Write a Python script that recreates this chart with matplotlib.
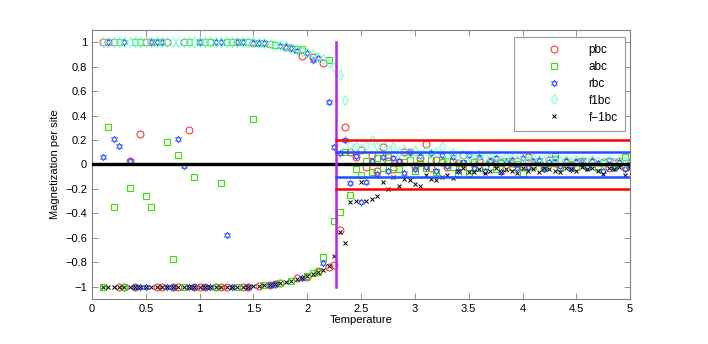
import numpy as np
import matplotlib.pyplot as plt
from matplotlib.path import Path

plt.rcParams['font.family'] = ['Liberation Sans', 'DejaVu Sans']

# temperature grid 0.1 : 0.05 : 5
temps = np.round(np.arange(0.1, 5.001, 0.05), 2)
Tc = 2.269

pbc = [1, 1, 1, -1, -1, 0.03, -1, 0.25, 1, 1,
       -1, -1, 1, -1, -1, 1, 0.28, -1, -1, -1,
       1, -1, -1, -1, 1, 1, -1, -0.999, 0.997, -0.995,
       0.99, -0.985, -0.98, -0.97, 0.96, 0.95, -0.93, 0.89, -0.92, 0.88,
       -0.87, 0.83, -0.84, -0.82,
       -0.54, 0.31, 0.1, 0.06, 0.12, -0.02, 0.08, -0.05, 0.14, 0.03,
       -0.04, 0.02, 0.1, 0.1, -0.01, 0.05, 0.17, -0.03, 0.04, 0.02,
       -0.02, 0.03, 0.01, 0.08, -0.02, 0.02, 0.04, -0.01, 0.03, 0.0,
       0.02, -0.03, 0.01, 0.03, -0.02, 0.06, 0.0, 0.02, -0.03, 0.04,
       0.01, -0.02, 0.03, -0.01, 0.02, 0.01, -0.02, 0.03, -0.01, 0.02,
       -0.03, 0.01, 0.03, -0.02, 0.01]

abc = [-1, 0.31, -0.35, 1, -1, -0.19, 1, 1, -0.26, -0.35,
       1, 1, 0.18, -0.77, 0.08, -1, 1, -0.1, 1, 1,
       1, -1, -0.155, 1, 1, -1, 1, 0.999, 0.37, 0.995,
       -0.99, 0.985, 0.98, -0.97, 0.96, -0.95, 0.94, 0.94, -0.91, -0.89,
       -0.88, -0.76, 0.85, -0.46,
       -0.39, 0.1, -0.25, -0.04, -0.09, 0.03, -0.06, 0.05, -0.03, 0.06,
       -0.02, -0.04, 0.02, 0.04, -0.05, 0.01, -0.03, 0.04, -0.06, 0.02,
       0.03, -0.02, -0.07, 0.01, -0.07, 0.02, -0.03, -0.01, 0.02, -0.04,
       0.01, 0.03, -0.02, 0.0, -0.07, 0.02, -0.01, 0.03, -0.02, 0.01,
       0.07, -0.03, 0.02, 0.0, -0.02, 0.03, -0.01, 0.02, -0.03, 0.01,
       0.03, -0.02, 0.01, 0.06, -0.01]

rbc = [0.06, 1, 0.21, 0.15, 1, 0.03, -1, -1, -1, 1,
       1, 1, -1, -1, 0.21, -0.01, -1, -1, 1, -1,
       -1, 1, 1, -0.58, -1, 1, 0.999, -0.999, 0.997, 0.995,
       0.99, -0.985, -0.98, 0.97, 0.96, 0.95, 0.93, -0.93, 0.91, 0.85,
       0.87, -0.81, 0.51, 0.14,
       0.09, 0.2, -0.15, 0.07, -0.31, -0.14, 0.03, -0.08, 0.06, -0.05,
       0.05, 0.03, -0.07, 0.1, -0.04, 0.07, -0.02, 0.09, -0.05, 0.08,
       -0.01, 0.06, -0.05, 0.02, 0.08, -0.03, 0.06, -0.05, 0.03, 0.05,
       -0.06, 0.02, 0.04, -0.03, 0.05, -0.02, 0.03, 0.04, -0.04, 0.02,
       0.05, -0.01, 0.03, -0.04, 0.02, 0.04, -0.02, 0.03, 0.01, -0.05,
       0.04, -0.03, 0.02, -0.04, 0.03]

f1bc = [1, 1, 1, 1, 1, 1, 1, 1, 1, 1,
        1, 1, 1, 1, 1, 1, 1, 1, 1, 1,
        1, 1, 1, 1, 1, 1, 1, 0.999, 0.998, 0.995,
        0.99, 0.985, 0.98, 0.975, 0.965, 0.955, 0.945, 0.93, 0.915, 0.9,
        0.88, 0.86, 0.83, 0.8,
        0.73, 0.53, 0.16, 0.15, 0.13, 0.16, 0.2, 0.15, 0.17, 0.12,
        0.14, 0.1, 0.12, 0.09, 0.11, 0.08, 0.12, 0.09, 0.1, 0.14,
        0.07, 0.09, 0.06, 0.08, 0.07, 0.05, 0.08, 0.06, 0.05, 0.07,
        0.04, 0.06, 0.05, 0.04, 0.06, 0.03, 0.05, 0.04, 0.03, 0.05,
        0.04, 0.03, 0.04, 0.02, 0.04, 0.03, 0.02, 0.04, 0.03, 0.02,
        0.03, 0.02, 0.03, 0.02, 0.03]

fm1bc = [-1, -1, -1, -1, -1, -1, -1, -1, -1, -1,
         -1, -1, -1, -1, -1, -1, -1, -1, -1, -1,
         -1, -1, -1, -1, -1, -1, -1, -0.999, -0.998, -0.995,
         -0.99, -0.985, -0.98, -0.97, -0.96, -0.95, -0.94, -0.93, -0.91, -0.9,
         -0.88, -0.86, -0.83, -0.75,
         -0.55, -0.64, -0.31, -0.3, -0.14, -0.3, -0.28, -0.26, -0.14, -0.2,
         -0.1, -0.18, -0.12, -0.13, -0.16, -0.18, -0.09, -0.12, -0.13, -0.1,
         -0.09, -0.11, -0.05, -0.03, -0.06, -0.06, -0.04, -0.07, -0.05, -0.03,
         -0.06, -0.04, -0.05, -0.07, -0.03, -0.05, -0.04, -0.06, -0.03, -0.04,
         -0.05, -0.06, -0.03, -0.04, -0.05, -0.02, -0.04, -0.03, -0.05, -0.08,
         -0.03, -0.04, -0.02, -0.09, -0.03]

# MATLAB-style hexagram: two overlapping triangles
ang_up = np.deg2rad([90, 210, 330])
ang_dn = np.deg2rad([270, 30, 150])
tri_up = np.column_stack([np.cos(ang_up), np.sin(ang_up)])
tri_dn = np.column_stack([np.cos(ang_dn), np.sin(ang_dn)])
verts = np.vstack([tri_up, tri_up[:1], tri_dn, tri_dn[:1]])
codes = [Path.MOVETO, Path.LINETO, Path.LINETO, Path.CLOSEPOLY] * 2
hexagram = Path(verts, codes)

fig = plt.figure(figsize=(7.08, 3.44), dpi=100)
ax = fig.add_axes([0.13, 0.131, 0.76, 0.782])

ax.plot(temps, pbc, 'o', ls='none', mfc='none', mec='#ff2020', ms=5, mew=0.7, label='pbc')
ax.plot(temps, abc, 's', ls='none', mfc='none', mec='#44dd00', ms=4, mew=0.8, label='abc')
ax.plot(temps, rbc, marker=hexagram, ls='none', mfc='none', mec='#3050ff', ms=5, mew=0.5, label='rbc')
ax.plot(temps, f1bc, 'd', ls='none', mfc='none', mec='#70ffd8', ms=5.5, mew=0.7, label='f1bc')
ax.plot(temps, fm1bc, 'x', ls='none', color='black', ms=3.5, mew=0.7, label='f\u22121bc')

# reference lines
ax.plot([0, 5], [0, 0], color='black', lw=2.4, zorder=3)
ax.plot([Tc, Tc], [-1, 1], color='#bb22ee', lw=1.8, zorder=3)
ax.plot([Tc, 5], [0.2, 0.2], color='#ff0000', lw=1.8, zorder=3)
ax.plot([Tc, 5], [-0.2, -0.2], color='#ff0000', lw=1.8, zorder=3)
ax.plot([Tc, 5], [0.1, 0.1], color='#2050ff', lw=1.8, zorder=3)
ax.plot([Tc, 5], [-0.1, -0.1], color='#2050ff', lw=1.8, zorder=3)

ax.set_xlim(0, 5)
ax.set_ylim(-1.1, 1.1)
ax.set_xticks(np.arange(0, 5.01, 0.5))
ax.set_xticklabels(['0', '0.5', '1', '1.5', '2', '2.5', '3', '3.5', '4', '4.5', '5'])
yt = np.round(np.arange(-1, 1.01, 0.2), 1)
ax.set_yticks(yt)
ax.set_yticklabels(['\u22121', '\u22120.8', '\u22120.6', '\u22120.4', '\u22120.2', '0',
                    '0.2', '0.4', '0.6', '0.8', '1'])
ax.tick_params(direction='in', top=True, right=True, length=4, width=0.6,
               color='#808080', labelsize=8)
for s in ax.spines.values():
    s.set_color('#808080')
    s.set_linewidth(0.8)

ax.set_xlabel('Temperature', fontsize=8, labelpad=1)
ax.set_ylabel('Magnetization per site', fontsize=8, labelpad=4)

leg = ax.legend(loc='upper right', bbox_to_anchor=(0.99, 0.975), fontsize=8.5,
                handlelength=5.6, handletextpad=0.1, borderpad=0.6,
                labelspacing=0.42, fancybox=False, frameon=True, borderaxespad=0)
leg.get_frame().set_edgecolor('#808080')
leg.get_frame().set_linewidth(0.8)

fig.savefig('out.png', dpi=100)
